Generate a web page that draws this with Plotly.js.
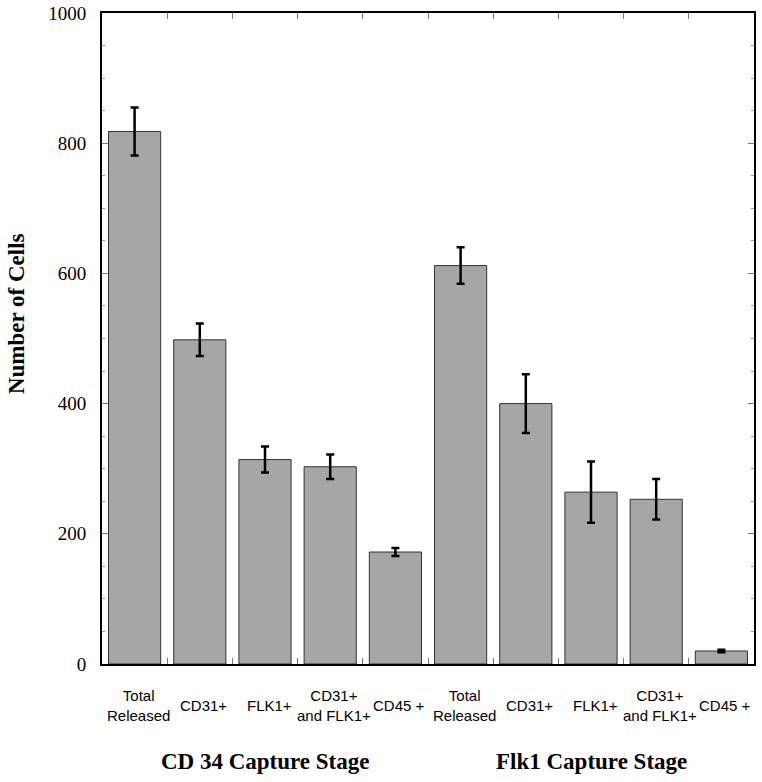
<!DOCTYPE html>
<html>
<head>
<meta charset="utf-8">
<script src="https://cdn.plot.ly/plotly-3.0.1.min.js"></script>
<style>
  body { margin: 0; background: #fff; }
  #chart { width: 762px; height: 782px; }
</style>
</head>
<body>
<div id="chart"></div>
<script>
// categorias (dos etapas de captura, cinco poblaciones cada una)
const categorias = ["Total<br>Released", "CD31+", "FLK1+", "CD31+<br>and FLK1+", "CD45 +",
                    "Total<br>Released", "CD31+", "FLK1+", "CD31+<br>and FLK1+", "CD45 +"];
const valores = [818, 498, 314, 303, 172, 612, 400, 264, 253, 20];
const errores = [37, 25, 20, 19, 6, 28, 45, 47, 31, 2];
const grupos = ["CD 34 Capture Stage", "Flk1 Capture Stage"];
const centrosGrupo = [2, 7];

const serif = "Liberation Serif";
const sans = "Liberation Sans";

const posX = categorias.map((c, i) => i);
const limites = categorias.slice(1).map((c, i) => i + 0.5);

const barras = {
  x: posX,
  y: valores,
  type: "bar",
  width: 0.8,
  marker: { color: "#a6a6a6", line: { color: "#333333", width: 1 } },
  error_y: { type: "data", array: errores, visible: true, color: "#000", thickness: 2.5, width: 4 },
  hoverinfo: "y"
};

// etiquetas de categoria centradas verticalmente bajo cada barra
const anotaciones = categorias.map((c, i) => ({
  x: i, y: -0.064, xref: "x", yref: "paper", xshift: 4,
  text: c, showarrow: false, yanchor: "middle",
  font: { family: sans, size: 15, color: "#000", lineposition: "none" }
}));

grupos.forEach((g, i) => {
  anotaciones.push({
    x: centrosGrupo[i], y: -0.1505, xref: "x", yref: "paper",
    text: "<b>" + g + "</b>", showarrow: false, yanchor: "middle",
    font: { family: serif, size: 23, color: "#000" }
  });
});

// titulo del eje Y como anotacion (va algo por encima del centro)
anotaciones.push({
  x: -0.132, y: 0.539, xref: "paper", yref: "paper",
  text: "<b>Number of Cells</b>", textangle: -90, showarrow: false,
  xanchor: "center", yanchor: "middle",
  font: { family: serif, size: 23, color: "#000" }
});

const layout = {
  width: 762,
  height: 782,
  margin: { l: 102, r: 8, t: 13, b: 118 },
  paper_bgcolor: "#fff",
  plot_bgcolor: "#fff",
  showlegend: false,
  bargap: 0.2,
  font: { family: serif, size: 17, color: "#000" },
  xaxis: {
    range: [-0.5, 9.5],
    tickvals: limites,
    showticklabels: false,
    ticks: "inside",
    ticklen: 6,
    tickwidth: 1,
    tickcolor: "#777",
    showline: true,
    linewidth: 2,
    linecolor: "#000",
    mirror: "ticks",
    showgrid: false,
    zeroline: false
  },
  yaxis: {
    range: [0, 1000],
    tickmode: "linear",
    tick0: 0,
    dtick: 200,
    ticks: "inside",
    ticklen: 6,
    tickwidth: 1,
    tickcolor: "#777",
    minor: { dtick: 50, ticks: "inside", ticklen: 3, tickcolor: "#999", showgrid: false },
    ticklabelstandoff: 10,
    tickfont: { family: serif, size: 19, color: "#000" },
    showline: true,
    linewidth: 2,
    linecolor: "#000",
    mirror: "ticks",
    showgrid: false,
    zeroline: false
  },
  annotations: anotaciones
};

Plotly.newPlot("chart", [barras], layout, { displayModeBar: false, staticPlot: true });
</script>
</body>
</html>
